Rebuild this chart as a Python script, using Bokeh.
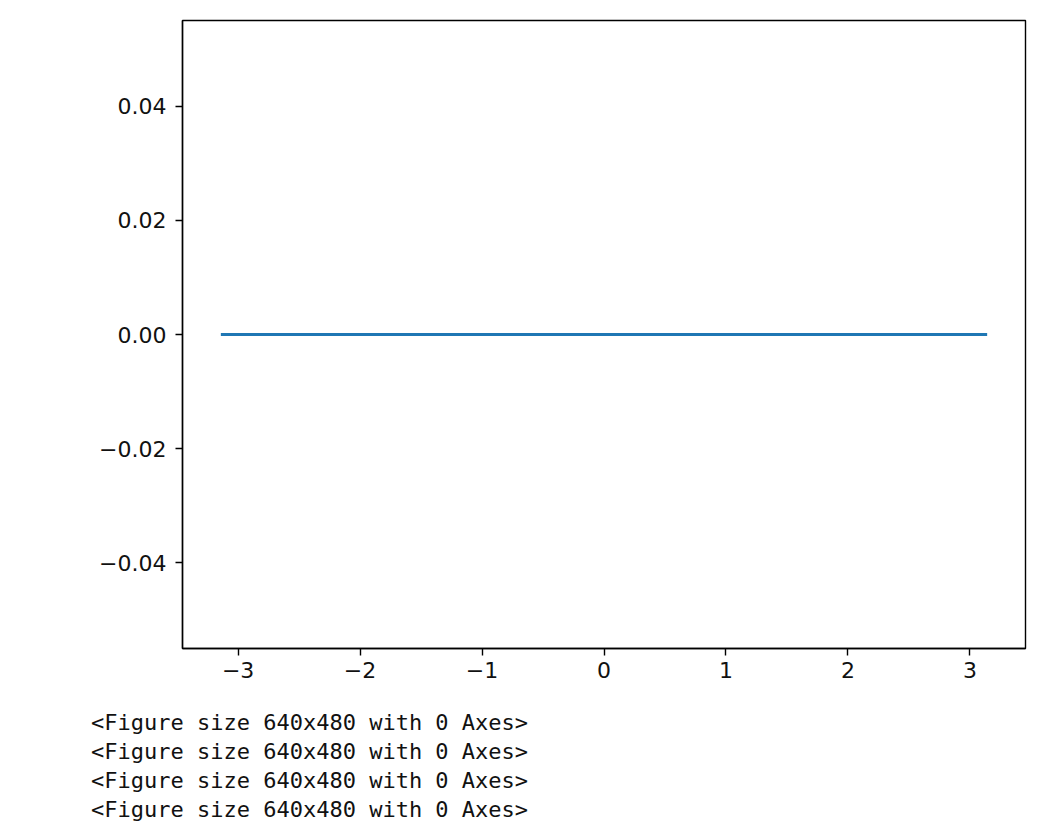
from bokeh.plotting import figure
from bokeh.models import Range1d, FixedTicker, Div
from bokeh.layouts import column
from bokeh.embed import file_html
from bokeh.resources import INLINE

# data
x_values = [-3.14159, 3.14159]
y_values = [0.0, 0.0]
x_ticks = [-3, -2, -1, 0, 1, 2, 3]
x_tick_labels = ["\u22123", "\u22122", "\u22121", "0", "1", "2", "3"]
y_ticks = [-0.04, -0.02, 0.0, 0.02, 0.04]
y_tick_labels = ["\u22120.04", "\u22120.02", "0.00", "0.02", "0.04"]
output_lines = ["<Figure size 640x480 with 0 Axes>"] * 4

p = figure(frame_width=843, frame_height=628, output_backend="svg", toolbar_location=None,
           x_range=Range1d(-3.456, 3.456), y_range=Range1d(-0.055, 0.055),
           min_border_left=182, min_border_right=9, min_border_top=20, min_border_bottom=55)
p.line(x_values, y_values, line_color="#1f77b4", line_width=2.8)

p.xgrid.visible = False
p.ygrid.visible = False
p.outline_line_color = "black"
p.outline_line_width = 1.4
p.background_fill_color = "white"
p.border_fill_color = "white"

for ax, ticks, labels in ((p.xaxis[0], x_ticks, x_tick_labels), (p.yaxis[0], y_ticks, y_tick_labels)):
    ax.ticker = FixedTicker(ticks=ticks, minor_ticks=[])
    ax.major_label_overrides = {t: l for t, l in zip(ticks, labels)}
    ax.axis_line_color = "black"
    ax.axis_line_width = 1.4
    ax.major_tick_line_color = "black"
    ax.major_tick_line_width = 1.4
    ax.major_tick_out = 7
    ax.major_tick_in = 0
    ax.minor_tick_line_color = None
    ax.major_label_text_font = "DejaVu Sans"
    ax.major_label_text_font_size = "22px"
    ax.major_label_text_color = "#111111"
p.xaxis[0].major_label_standoff = 6
p.yaxis[0].major_label_standoff = 9

text_html = "<br>".join(l.replace("<", "&lt;").replace(">", "&gt;") for l in output_lines)
div = Div(text=f"<div style=\"margin:0;padding-left:86px;font-family:'DejaVu Sans Mono',monospace;"
               f"font-size:22px;line-height:29px;color:#111;white-space:pre\">{text_html}</div>",
          width=1000, height=120)

layout = column(p, div, spacing=0)
open("out.html", "w").write(file_html(layout, INLINE))
